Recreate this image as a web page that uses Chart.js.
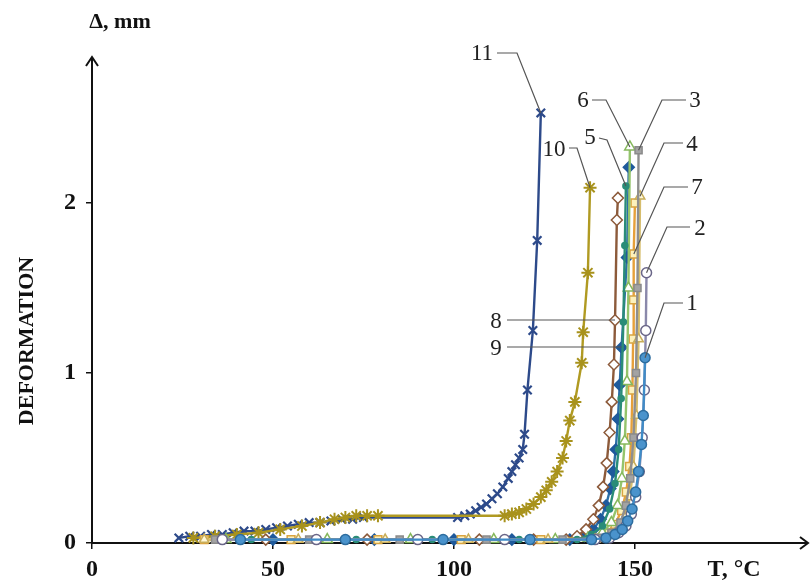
<!DOCTYPE html>
<html>
<head>
<meta charset="utf-8">
<script src="https://cdn.jsdelivr.net/npm/chart.js@4"></script>
<style>
  body { margin: 0; background: #fff; }
  #wrap { width: 810px; height: 581px; position: relative; }
</style>
</head>
<body>
<div id="wrap"><canvas id="deformChart"></canvas></div>
<script>
// Dados: T (°C) e deformação (mm) para cada curva
const seriesNames = ['1', '2', '3', '4', '5', '6', '7', '8', '9', '10', '11'];
const xTicks = [0, 50, 100, 150];
const yTicks = [0, 1, 2];

const t1 = [41, 70, 97, 121, 138, 142, 144.5, 146.5, 148, 149.2, 150.2, 151, 151.8, 152.3, 152.8];
const d1 = [0.02, 0.02, 0.02, 0.02, 0.02, 0.03, 0.05, 0.08, 0.13, 0.2, 0.3, 0.42, 0.58, 0.75, 1.09];

const t2 = [36, 62, 90, 114, 139, 143, 145.5, 147.5, 149, 150.2, 151.2, 152, 152.6, 153, 153.2];
const d2 = [0.02, 0.02, 0.02, 0.02, 0.02, 0.03, 0.06, 0.1, 0.17, 0.27, 0.42, 0.62, 0.9, 1.25, 1.59];

const t3 = [34, 60, 85, 109, 130, 140, 143.5, 146, 147.5, 148.7, 149.6, 150.3, 150.7, 151];
const d3 = [0.02, 0.02, 0.02, 0.02, 0.02, 0.03, 0.06, 0.12, 0.22, 0.38, 0.62, 1.0, 1.5, 2.31];

const t4 = [31, 57, 81, 104, 126, 139, 143, 145.5, 147.3, 148.6, 149.6, 150.4, 151, 151.4];
const d4 = [0.02, 0.02, 0.02, 0.02, 0.02, 0.02, 0.04, 0.08, 0.15, 0.27, 0.45, 0.75, 1.2, 2.04];

const t5 = [44, 73, 94, 118, 134, 138, 141, 143, 144.5, 145.5, 146.2, 146.8, 147.2, 147.5];
const d5 = [0.02, 0.02, 0.02, 0.02, 0.02, 0.05, 0.1, 0.2, 0.35, 0.55, 0.85, 1.3, 1.75, 2.1];

const t6 = [37, 65, 88, 111, 128, 137, 141, 143.5, 145.2, 146.4, 147.2, 147.8, 148.2, 148.6];
const d6 = [0.02, 0.02, 0.02, 0.02, 0.02, 0.03, 0.06, 0.12, 0.22, 0.38, 0.6, 0.95, 1.5, 2.33];

const t7 = [31, 55, 79, 102, 124, 138, 142, 144.5, 146.3, 147.6, 148.5, 149, 149.3, 149.5, 149.6, 149.7, 150];
const d7 = [0.02, 0.02, 0.02, 0.02, 0.02, 0.03, 0.06, 0.11, 0.19, 0.3, 0.45, 0.62, 0.9, 1.2, 1.43, 1.7, 2.0];

const t8 = [48, 76, 107, 122, 131, 134, 136.5, 138.5, 140, 141.2, 142.2, 143, 143.6, 144.2, 144.5, 145, 145.3];
const d8 = [0.02, 0.02, 0.02, 0.02, 0.02, 0.04, 0.08, 0.14, 0.22, 0.33, 0.47, 0.65, 0.83, 1.05, 1.31, 1.9, 2.03];

const t9 = [50, 78, 100, 116, 132, 136, 138.5, 140.5, 142, 143.2, 144, 144.7, 145.3, 145.8, 146.3, 147.8, 148.3];
const d9 = [0.02, 0.02, 0.02, 0.02, 0.02, 0.04, 0.08, 0.14, 0.22, 0.32, 0.42, 0.55, 0.73, 0.93, 1.15, 1.68, 2.21];

const t10 = [28, 34, 40, 46, 52, 58, 63, 67, 70, 73, 76, 79, 114, 116, 118, 120, 122, 124, 125.5, 127, 128.5, 130, 131, 132, 133.4, 135.3, 135.7, 137, 137.6];
const d10 = [0.03, 0.04, 0.05, 0.06, 0.08, 0.1, 0.12, 0.14, 0.15, 0.16, 0.16, 0.16, 0.16, 0.17, 0.18, 0.2, 0.23, 0.27, 0.31, 0.36, 0.42, 0.5, 0.6, 0.72, 0.83, 1.06, 1.24, 1.59, 2.09];

const t11 = [24, 27, 30, 33, 36, 39, 42, 45, 48, 51, 54, 57, 60, 63, 66, 69, 72, 75, 101, 103, 104.5, 106, 107.5, 109, 110.5, 112, 113.5, 115, 116, 117, 118, 119, 119.5, 120.3, 121.8, 123, 124];
const d11 = [0.03, 0.04, 0.04, 0.05, 0.05, 0.06, 0.07, 0.07, 0.08, 0.09, 0.1, 0.11, 0.12, 0.12, 0.13, 0.14, 0.14, 0.15, 0.15, 0.16, 0.17, 0.19, 0.21, 0.23, 0.26, 0.29, 0.33, 0.38, 0.42, 0.46, 0.5, 0.55, 0.64, 0.9, 1.25, 1.78, 2.53];

const temps = [t1, t2, t3, t4, t5, t6, t7, t8, t9, t10, t11];
const defs = [d1, d2, d3, d4, d5, d6, d7, d8, d9, d10, d11];

// estilo de cada curva: cor da linha, marcador, preenchimento, borda
const styles = [
    { line: '#3f8cc8', shape: 'circle',   fill: '#4a93cc', edge: '#2d6c9e', r: 5,   bw: 1.5 },
    { line: '#8a88aa', shape: 'circle',   fill: '#ffffff', edge: '#6a6688', r: 5,   bw: 1.5 },
    { line: '#8e8e8e', shape: 'rect',     fill: '#a3a3a3', edge: '#8a8a8a', r: 5,   bw: 1.5 },
    { line: '#d6bd6c', shape: 'triangle', fill: '#fff8d8', edge: '#c8ad5a', r: 5.5, bw: 1.5 },
    { line: '#2a8c78', shape: 'circle',   fill: '#2a8c78', edge: '#2a8c78', r: 3,   bw: 1.5 },
    { line: '#94c46c', shape: 'triangle', fill: '#ffffff', edge: '#86b85c', r: 6,   bw: 1.5 },
    { line: '#e6a03a', shape: 'rect',     fill: '#fdf1bc', edge: '#d9a441', r: 5.5, bw: 1.5 },
    { line: '#8c5a3a', shape: 'rectRot',  fill: '#ffffff', edge: '#8c5a3a', r: 5.5, bw: 1.5 },
    { line: '#2c6fa6', shape: 'rectRot',  fill: '#1f5a9c', edge: '#1f5a9c', r: 5.5, bw: 1.5 },
    { line: '#b09a22', shape: 'star',     fill: '#a8921c', edge: '#a8921c', r: 6.5, bw: 2 },
    { line: '#2d4a8a', shape: 'crossRot', fill: '#2d4a8a', edge: '#2d4a8a', r: 6,   bw: 2.2 }
];

// rótulos numerados com linhas de chamada (texto, início, cotovelo, ponto alvo)
const callouts = [
    { text: '11', tx: 482, ty: 54, sx: 497, sy: 53, ex: 517, ey: 53, ds: 10, pt: 36 },
    { text: '6',  tx: 583, ty: 101, sx: 592, sy: 100, ex: 606, ey: 100, ds: 5, pt: 13 },
    { text: '3',  tx: 695, ty: 101, sx: 686, sy: 100, ex: 662, ey: 100, ds: 2, pt: 13 },
    { text: '10', tx: 554, ty: 150, sx: 569, sy: 148, ex: 577, ey: 148, ds: 9, pt: 28 },
    { text: '5',  tx: 590, ty: 138, sx: 599, sy: 138, ex: 607, ey: 140, ds: 4, pt: 13 },
    { text: '4',  tx: 692, ty: 145, sx: 683, sy: 143, ex: 664, ey: 143, ds: 3, pt: 13 },
    { text: '7',  tx: 697, ty: 188, sx: 688, sy: 187, ex: 664, ey: 187, ds: 6, pt: 15 },
    { text: '2',  tx: 700, ty: 229, sx: 690, sy: 227, ex: 667, ey: 227, ds: 1, pt: 14 },
    { text: '1',  tx: 692, ty: 304, sx: 683, sy: 303, ex: 664, ey: 303, ds: 0, pt: 14 },
    { text: '8',  tx: 496, ty: 322, sx: 507, sy: 320, ex: null, ey: null, ds: 7, pt: 14 },
    { text: '9',  tx: 496, ty: 349, sx: 507, sy: 347, ex: null, ey: null, ds: 8, pt: 14 }
];

const datasets = seriesNames.map((name, i) => ({
    label: name,
    data: temps[i].map((t, k) => ({ x: t, y: defs[i][k] })),
    showLine: true,
    borderColor: styles[i].line,
    borderWidth: 2.4,
    pointStyle: styles[i].shape,
    pointRadius: styles[i].r,
    pointBackgroundColor: styles[i].fill,
    pointBorderColor: styles[i].edge,
    pointBorderWidth: styles[i].bw,
    clip: false
}));

const serif = '"Liberation Serif", "Times New Roman", serif';

// setas dos eixos, títulos e rótulos de chamada
const decorPlugin = {
    id: 'decor',
    afterDraw(chart) {
        const { ctx, chartArea, scales } = chart;
        const x0 = chartArea.left, y0 = chartArea.bottom;
        ctx.save();
        ctx.strokeStyle = '#111';
        ctx.lineWidth = 2;
        // eixo x prolongado + seta
        ctx.beginPath();
        ctx.moveTo(chartArea.right, y0);
        ctx.lineTo(808, y0);
        ctx.moveTo(800, y0 - 6);
        ctx.lineTo(808, y0);
        ctx.lineTo(800, y0 + 6);
        ctx.stroke();
        // seta do eixo y
        ctx.beginPath();
        ctx.moveTo(x0, chartArea.top);
        ctx.lineTo(x0, 57);
        ctx.moveTo(x0 - 6, 66);
        ctx.lineTo(x0, 57);
        ctx.lineTo(x0 + 6, 66);
        ctx.stroke();

        ctx.fillStyle = '#111';
        ctx.textAlign = 'center';
        ctx.textBaseline = 'middle';
        ctx.font = 'bold 22px ' + serif;
        ctx.fillText('Δ, mm', 120, 22);
        ctx.font = 'bold 24px ' + serif;
        ctx.fillText('T, °C', 734, 570);
        ctx.save();
        ctx.translate(27, 341);
        ctx.rotate(-Math.PI / 2);
        ctx.font = 'bold 22px ' + serif;
        ctx.fillText('DEFORMATION', 0, 0);
        ctx.restore();

        // chamadas
        ctx.font = '23px ' + serif;
        ctx.fillStyle = '#222';
        ctx.strokeStyle = '#555';
        ctx.lineWidth = 1.2;
        callouts.forEach(c => {
            const p = datasets[c.ds].data[c.pt];
            const px = scales.x.getPixelForValue(p.x);
            const py = scales.y.getPixelForValue(p.y);
            ctx.beginPath();
            ctx.moveTo(c.sx, c.sy);
            if (c.ex !== null) ctx.lineTo(c.ex, c.ey);
            ctx.lineTo(px, c.ex === null ? c.sy : py);
            ctx.stroke();
            ctx.fillText(c.text, c.tx, c.ty);
        });
        ctx.restore();
    }
};

const tickFont = { family: serif, size: 24, weight: 'bold' };

new Chart(document.getElementById('deformChart'), {
    type: 'scatter',
    data: { datasets: datasets },
    options: {
        responsive: true,
        maintainAspectRatio: false,
        animation: false,
        layout: { padding: { top: 58, right: 10, left: 0, bottom: 0 } },
        plugins: {
            legend: { display: false },
            tooltip: { enabled: false }
        },
        scales: {
            x: {
                type: 'linear',
                min: 0,
                max: 195.6,
                afterBuildTicks: (scale) => { scale.ticks = xTicks.map(v => ({ value: v })); },
                afterFit: (scale) => { scale.height = 38; },
                ticks: { color: '#111', font: tickFont, padding: 6, maxRotation: 0 },
                grid: { drawOnChartArea: false, tickLength: 6, color: '#111', lineWidth: 1.5 },
                border: { display: true, color: '#111', width: 2 }
            },
            y: {
                type: 'linear',
                min: 0,
                max: 2.853,
                afterBuildTicks: (scale) => { scale.ticks = yTicks.map(v => ({ value: v })); },
                afterFit: (scale) => { scale.width = 92; },
                ticks: { color: '#111', font: tickFont, padding: 10 },
                grid: { drawOnChartArea: false, tickLength: 6, color: '#111', lineWidth: 1.5 },
                border: { display: true, color: '#111', width: 2 }
            }
        }
    },
    plugins: [decorPlugin]
});
</script>
</body>
</html>
